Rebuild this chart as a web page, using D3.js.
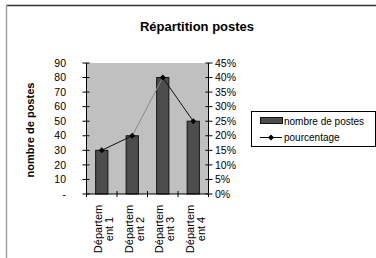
<!DOCTYPE html>
<html>
<head>
<meta charset="utf-8">
<script src="https://cdn.jsdelivr.net/npm/d3@7"></script>
<style>
  body { margin: 0; background: #fff; }
  text { font-family: "Liberation Sans", Arial, sans-serif; }
</style>
</head>
<body>
<div id="chart"></div>
<script>
// chart data
var categories = ["Département 1", "Département 2", "Département 3", "Département 4"];
var labelLines = [["Départem", "ent 1"], ["Départem", "ent 2"], ["Départem", "ent 3"], ["Départem", "ent 4"]];
var postes = [30, 40, 80, 50];
var pourcentage = [0.15, 0.20, 0.40, 0.25];
var leftTicks = [0, 10, 20, 30, 40, 50, 60, 70, 80, 90];
var rightTicks = [0, 0.05, 0.10, 0.15, 0.20, 0.25, 0.30, 0.35, 0.40, 0.45];

var W = 376, H = 258;
var plot = {left: 86.5, right: 208.5, top: 63, bottom: 194};

var svg = d3.select("#chart").append("svg")
  .attr("width", W).attr("height", H);

// frame edges
svg.append("line").attr("x1", 6).attr("x2", W).attr("y1", 5.5).attr("y2", 5.5)
  .attr("stroke", "#333").attr("stroke-width", 1.5);
svg.append("line").attr("x1", 6.5).attr("x2", 6.5).attr("y1", 5).attr("y2", H)
  .attr("stroke", "#a0a0a0").attr("stroke-width", 1.5);

// title
svg.append("text").attr("x", 197).attr("y", 31)
  .attr("text-anchor", "middle").attr("font-size", 13).attr("font-weight", "bold")
  .text("Répartition postes");

var x = d3.scaleBand().domain(categories).range([plot.left, plot.right]);
var yL = d3.scaleLinear().domain([0, 90]).range([plot.bottom, plot.top]);
var yR = d3.scaleLinear().domain([0, 0.45]).range([plot.bottom, plot.top]);

// plot area
svg.append("rect")
  .attr("x", plot.left).attr("y", plot.top)
  .attr("width", plot.right - plot.left).attr("height", plot.bottom - plot.top)
  .attr("fill", "#c0c0c0");

// bars
var bw = x.bandwidth() * 0.4;
svg.selectAll("rect.bar").data(postes).enter().append("rect")
  .attr("class", "bar")
  .attr("x", (d, i) => x(categories[i]) + x.bandwidth() / 2 - bw / 2)
  .attr("y", d => yL(d))
  .attr("width", bw)
  .attr("height", d => yL(0) - yL(d))
  .attr("fill", "#4d4d4d").attr("stroke", "#111").attr("stroke-width", 1);

// left axis
svg.append("line").attr("x1", plot.left).attr("x2", plot.left)
  .attr("y1", plot.top).attr("y2", plot.bottom).attr("stroke", "#000");
var gl = svg.append("g");
gl.selectAll("line").data(leftTicks).enter().append("line")
  .attr("x1", plot.left - 4).attr("x2", plot.left + 3)
  .attr("y1", d => yL(d)).attr("y2", d => yL(d)).attr("stroke", "#000");
gl.selectAll("text").data(leftTicks).enter().append("text")
  .attr("x", 66).attr("y", d => yL(d)).attr("dy", "0.35em")
  .attr("text-anchor", "end").attr("font-size", 10.5)
  .text(d => d === 0 ? "-" : d);

// right axis
svg.append("line").attr("x1", plot.right).attr("x2", plot.right)
  .attr("y1", plot.top).attr("y2", plot.bottom).attr("stroke", "#000");
var gr = svg.append("g");
gr.selectAll("line").data(rightTicks).enter().append("line")
  .attr("x1", plot.right - 3).attr("x2", plot.right + 4)
  .attr("y1", d => yR(d)).attr("y2", d => yR(d)).attr("stroke", "#000");
gr.selectAll("text").data(rightTicks).enter().append("text")
  .attr("x", 215).attr("y", d => yR(d)).attr("dy", "0.35em")
  .attr("font-size", 10.5)
  .text(d => d3.format(".0%")(d));

// bottom axis
svg.append("line").attr("x1", plot.left).attr("x2", plot.right)
  .attr("y1", plot.bottom).attr("y2", plot.bottom).attr("stroke", "#000");
var edges = categories.map(c => x(c)).concat([plot.right]);
svg.append("g").selectAll("line").data(edges).enter().append("line")
  .attr("x1", d => d).attr("x2", d => d)
  .attr("y1", plot.bottom - 3).attr("y2", plot.bottom + 3).attr("stroke", "#000");

// category labels, rotated, two lines
labelLines.forEach(function(lines, i) {
  var cx = x(categories[i]) + x.bandwidth() / 2;
  lines.forEach(function(t, j) {
    var bx = cx + 0.5 + j * 11;
    svg.append("text")
      .attr("transform", `translate(${bx},229) rotate(-90)`)
      .attr("text-anchor", "middle").attr("font-size", 11)
      .text(t);
  });
});

// left axis title
svg.append("text")
  .attr("transform", "translate(33.5,130) rotate(-90)")
  .attr("text-anchor", "middle").attr("font-size", 11).attr("font-weight", "bold")
  .text("nombre de postes");

// percentage line
var pts = pourcentage.map((d, i) => [x(categories[i]) + x.bandwidth() / 2, yR(d)]);
svg.append("g").selectAll("line").data(d3.pairs(pts)).enter().append("line")
  .attr("x1", d => d[0][0]).attr("y1", d => d[0][1])
  .attr("x2", d => d[1][0]).attr("y2", d => d[1][1])
  .attr("stroke", (d, i) => i === 1 ? "#888" : "#111").attr("stroke-width", 1);

function diamond(g, cx, cy) {
  g.append("path")
    .attr("d", `M${cx},${cy - 3}L${cx + 3},${cy}L${cx},${cy + 3}L${cx - 3},${cy}Z`)
    .attr("fill", "#000");
}
var gm = svg.append("g");
pts.forEach(p => diamond(gm, p[0], p[1]));

// legend
var lg = svg.append("g");
lg.append("rect").attr("x", 251.5).attr("y", 111.5).attr("width", 124).attr("height", 35)
  .attr("fill", "#fff").attr("stroke", "#000");
lg.append("rect").attr("x", 260.5).attr("y", 117.5).attr("width", 22).attr("height", 6)
  .attr("fill", "#4d4d4d").attr("stroke", "#111");
lg.append("text").attr("x", 284).attr("y", 124.5).attr("font-size", 10).text("nombre de postes");
lg.append("line").attr("x1", 260).attr("x2", 282).attr("y1", 137.5).attr("y2", 137.5)
  .attr("stroke", "#000");
diamond(lg, 271, 137.5);
lg.append("text").attr("x", 284).attr("y", 141).attr("font-size", 10).text("pourcentage");
</script>
</body>
</html>
